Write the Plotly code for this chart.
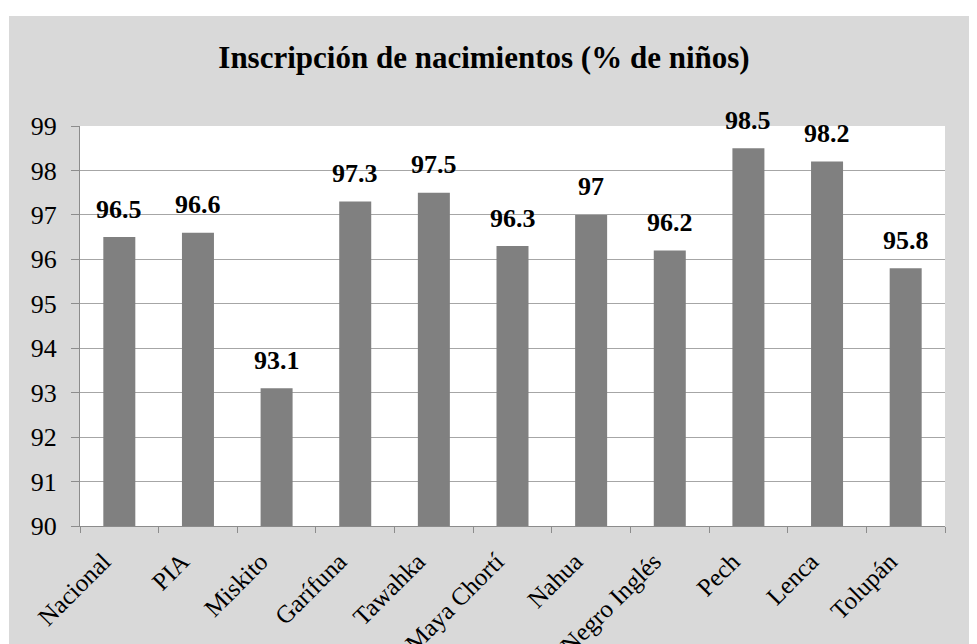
import plotly.graph_objects as go

categories = ["Nacional", "PIA", "Miskito", "Garífuna", "Tawahka", "Maya Chortí",
              "Nahua", "Negro Inglés", "Pech", "Lenca", "Tolupán"]
values = [96.5, 96.6, 93.1, 97.3, 97.5, 96.3, 97, 96.2, 98.5, 98.2, 95.8]
labels = ["96.5", "96.6", "93.1", "97.3", "97.5", "96.3", "97", "96.2", "98.5", "98.2", "95.8"]
y_ticks = [90, 91, 92, 93, 94, 95, 96, 97, 98, 99]

W, H = 977, 644
L, R, T, B = 72, 40, 118, 126
pw, ph = W - L - R, H - T - B

FONT = "'Liberation Serif', 'Times New Roman', serif"

fig = go.Figure(go.Bar(
    x=categories, y=values, base=0,
    marker=dict(color="#808080", line=dict(width=0)),
    hoverinfo="x+y",
))

for c, v, t in zip(categories, values, labels):
    fig.add_annotation(
        x=c, y=v, xref="x", yref="y", text=f"<b>{t}</b>", showarrow=False,
        yanchor="middle", xanchor="center", yshift=28,
        font=dict(family=FONT, size=26, color="black"),
    )

fig.update_layout(
    width=W, height=H,
    margin=dict(l=L, r=R, t=T, b=B, autoexpand=False),
    paper_bgcolor="white", plot_bgcolor="white",
    bargap=0.593,
    showlegend=False,
    title=dict(text="<b>Inscripción de nacimientos (% de niños)</b>",
               x=476 / W, xanchor="center", y=1 - 49 / H, yanchor="middle",
               font=dict(family=FONT, size=31, color="black")),
    font=dict(family=FONT, color="black"),
    shapes=[
        dict(type="rect", xref="paper", yref="paper", layer="below",
             x0=(1 - L) / pw, x1=(W + 5 - L) / pw,
             y0=-(B + 5) / ph, y1=1 + (T - 8) / ph,
             fillcolor="#D9D9D9", line=dict(width=0)),
        dict(type="rect", xref="paper", yref="paper", layer="below",
             x0=0, x1=1, y0=0, y1=1,
             fillcolor="white", line=dict(width=0)),
    ],
)

fig.update_xaxes(
    tickangle=-45, tickfont=dict(family=FONT, size=25, color="black"),
    showline=True, linecolor="#8C8C8C", linewidth=1,
    ticks="outside", tickson="boundaries", ticklen=6, tickcolor="#8C8C8C",
    ticklabelstandoff=10, ticklabelshift=-16, automargin=False,
    showgrid=False,
)
fig.update_yaxes(
    range=[90, 99], tickvals=y_ticks,
    tickfont=dict(family=FONT, size=26, color="black"),
    showline=True, linecolor="#8C8C8C", linewidth=1,
    ticks="outside", ticklen=8, tickcolor="#8C8C8C",
    ticklabelstandoff=9, automargin=False,
    showgrid=True, gridcolor="#A6A6A6", gridwidth=1,
    zeroline=False,
)

fig.write_html("out.html")
